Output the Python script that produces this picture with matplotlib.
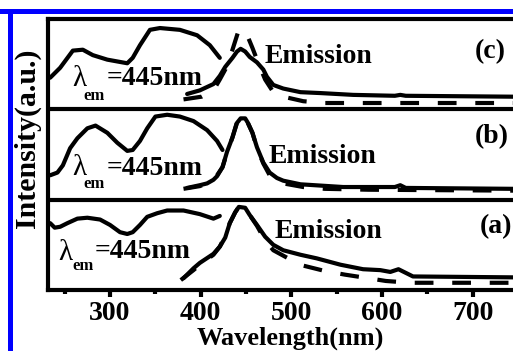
import matplotlib
matplotlib.use("Agg")
import matplotlib.pyplot as plt
from matplotlib.patches import Rectangle

# ---------------- data (panel-local intensity, 0..1 within each panel) ----------------
# Panel (c)
c_exc_wl = [234, 245, 259, 270, 281, 297, 319, 325, 333, 344, 355, 377, 396, 410, 421]
c_exc_y = [0.35, 0.46, 0.65, 0.66, 0.60, 0.55, 0.51, 0.57, 0.71, 0.88, 0.90, 0.88, 0.82, 0.71, 0.57]
c_em_wl = [385, 399, 414, 421, 427, 435, 440, 444, 449, 454, 462, 469, 473, 480, 491, 510, 532, 568, 614, 620, 626, 744, 760]
c_em_y = [0.17, 0.21, 0.28, 0.37, 0.47, 0.57, 0.64, 0.67, 0.64, 0.58, 0.52, 0.44, 0.36, 0.27, 0.23, 0.19, 0.18, 0.16, 0.15, 0.16, 0.15, 0.14, 0.14]
c_em2_wl = [381, 401, 414, 421, 427, 435, 441, 446, 450, 457, 462, 471, 480, 491, 513, 537, 744, 760]
c_em2_y = [0.11, 0.14, 0.21, 0.33, 0.44, 0.66, 0.85, 0.89, 0.85, 0.68, 0.55, 0.33, 0.19, 0.14, 0.09, 0.07, 0.07, 0.07]

# Panel (b)
b_exc_wl = [234, 242, 248, 256, 264, 275, 284, 297, 308, 319, 325, 333, 341, 350, 363, 377, 392, 407, 418, 424]
b_exc_y = [0.27, 0.30, 0.38, 0.57, 0.68, 0.79, 0.82, 0.74, 0.63, 0.54, 0.55, 0.65, 0.79, 0.92, 0.94, 0.92, 0.87, 0.77, 0.65, 0.55]
b_em_wl = [385, 399, 407, 414, 418, 424, 429, 435, 440, 444, 449, 452, 457, 462, 469, 476, 484, 491, 510, 557, 614, 620, 626, 744, 760]
b_em_y = [0.13, 0.16, 0.18, 0.22, 0.26, 0.36, 0.53, 0.69, 0.85, 0.90, 0.90, 0.85, 0.74, 0.58, 0.41, 0.30, 0.24, 0.21, 0.17, 0.14, 0.14, 0.16, 0.13, 0.12, 0.12]
b_em2_wl = [381, 399, 414, 424, 429, 435, 440, 446, 451, 457, 462, 469, 476, 484, 491, 513, 537, 585, 744, 760]
b_em2_y = [0.12, 0.15, 0.21, 0.36, 0.52, 0.69, 0.86, 0.93, 0.87, 0.74, 0.57, 0.40, 0.27, 0.22, 0.18, 0.14, 0.12, 0.11, 0.10, 0.10]

# Panel (a)
a_exc_wl = [234, 239, 245, 253, 264, 275, 289, 300, 311, 319, 325, 333, 341, 352, 363, 381, 399, 414, 421]
a_exc_y = [0.74, 0.69, 0.70, 0.74, 0.79, 0.80, 0.78, 0.72, 0.64, 0.62, 0.64, 0.72, 0.81, 0.85, 0.88, 0.88, 0.84, 0.79, 0.82]
a_em_wl = [381, 392, 399, 414, 421, 427, 432, 438, 442, 449, 454, 462, 471, 480, 491, 510, 528, 554, 579, 598, 609, 618, 626, 634, 744, 760]
a_em_y = [0.13, 0.24, 0.30, 0.40, 0.48, 0.58, 0.74, 0.86, 0.92, 0.91, 0.83, 0.72, 0.59, 0.50, 0.44, 0.39, 0.35, 0.28, 0.23, 0.22, 0.20, 0.23, 0.19, 0.15, 0.14, 0.14]
a_em2_wl = [378, 392, 399, 414, 421, 427, 432, 438, 442, 449, 454, 462, 471, 480, 491, 502, 513, 537, 559, 585, 604, 631, 744, 760]
a_em2_y = [0.11, 0.22, 0.28, 0.39, 0.48, 0.60, 0.74, 0.86, 0.92, 0.91, 0.83, 0.71, 0.55, 0.44, 0.38, 0.32, 0.27, 0.21, 0.17, 0.13, 0.10, 0.08, 0.08, 0.08]

x_ticks = [300, 400, 500, 600, 700]
x_minor = [250, 350, 450, 550, 650, 750]
panel_labels = ["(a)", "(b)", "(c)"]
emission_label = "Emission"
lambda_text = "=445nm"

# ---------------- figure ----------------
W, H = 513, 351
fig = plt.figure(figsize=(W / 100, H / 100), dpi=100)
fig.patch.set_facecolor("white")

serif = ["Liberation Serif", "DejaVu Serif"]
plt.rcParams["font.family"] = serif

px_per_nm = 0.907
x0 = 231.6
x1 = 770
ax_left, ax_right_px = 48, 48 + (x1 - x0) * px_per_nm
ax_top, ax_bot = 19, 290
ax = fig.add_axes([ax_left / W, 1 - ax_bot / H, (ax_right_px - ax_left) / W, (ax_bot - ax_top) / H])
ax.set_xlim(x0, x1)
ax.set_ylim(0, 3)

lw = 3.0
kw = dict(color="black", lw=lw, solid_joinstyle="round", solid_capstyle="round")
dkw = dict(color="black", lw=lw, dashes=(4.5, 4.5), dash_capstyle="butt")

panels = [
    (0, a_exc_wl, a_exc_y, a_em_wl, a_em_y, a_em2_wl, a_em2_y),
    (1, b_exc_wl, b_exc_y, b_em_wl, b_em_y, b_em2_wl, b_em2_y),
    (2, c_exc_wl, c_exc_y, c_em_wl, c_em_y, c_em2_wl, c_em2_y),
]
for off, ew, ey, mw, my, dw, dy in panels:
    ax.plot(ew, [v + off for v in ey], **kw)
    ax.plot(mw, [v + off for v in my], **kw)
    ax.plot(dw, [v + off for v in dy], **dkw)

for yv in (1, 2):
    ax.axhline(yv, color="black", lw=3)

for s in ["left", "bottom", "top"]:
    ax.spines[s].set_linewidth(3)
    ax.spines[s].set_color("black")
ax.spines["right"].set_visible(False)

ax.set_yticks([])
ax.set_xticks(x_ticks)
ax.set_xticks(x_minor, minor=True)
ax.tick_params(axis="x", which="major", direction="out", length=5, width=3, pad=3,
               labelsize=20)
ax.tick_params(axis="x", which="minor", direction="out", length=3, width=3)
for lab in ax.get_xticklabels():
    lab.set_fontweight("bold")
    lab.set_family(serif)

# text helper in pixel coords
def px2data(xp, yp):
    return x0 + (xp - ax_left) / px_per_nm, 3 * (ax_bot - yp) / (ax_bot - ax_top)

def put(xp, yp, s, size=20, weight="bold", ha="left", va="baseline"):
    x, y = px2data(xp, yp)
    ax.text(x, y, s, fontsize=size, fontweight=weight, ha=ha, va=va, family=serif,
            color="black", clip_on=False)

# Emission labels
put(265, 63, emission_label)
put(269, 163, emission_label)
put(275, 238, emission_label)
# panel labels
put(475, 58, panel_labels[2])
put(475, 143, panel_labels[1])
put(480, 233, panel_labels[0])
# lambda labels
for (lx, ly, ex, ey, tx, ty) in [(72, 86, 83, 100, 107, 85),
                                 (72, 175, 83, 188, 107, 175),
                                 (58, 260, 72, 270, 95, 258)]:
    put(lx, ly, "λ", size=21, weight="normal")
    put(ex, ey, "em", size=12)
    put(tx, ty, lambda_text)

# axis titles
fig.text(290 / W, 1 - 345 / H, "Wavelength(nm)", fontsize=19, fontweight="bold",
         ha="center", va="baseline", family=serif)
fig.text(27 / W, 1 - 138 / H, "Intensity(a.u.)", fontsize=21.5, fontweight="bold",
         ha="center", va="center", rotation=90, family=serif)

# blue frame
fig.add_artist(Rectangle((0, 1 - 14 / H), 1, 5 / H, transform=fig.transFigure,
                         facecolor="#0000ff", edgecolor="none"))
fig.add_artist(Rectangle((8 / W, 0), 5 / W, 1 - 9 / H, transform=fig.transFigure,
                         facecolor="#0000ff", edgecolor="none"))

fig.savefig("out.png", dpi=100, facecolor="white")
